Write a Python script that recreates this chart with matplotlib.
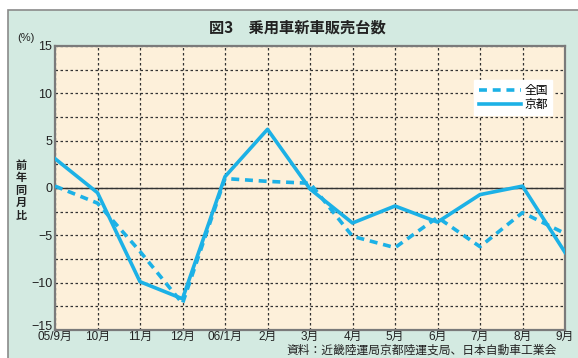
import matplotlib
matplotlib.use('Agg')
import matplotlib.pyplot as plt
from matplotlib.patches import Rectangle
from matplotlib.ticker import MultipleLocator

plt.rcParams['font.family'] = ['Noto Sans CJK JP', 'DejaVu Sans']
tick_fonts = ['Liberation Sans', 'Noto Sans CJK JP']

# データ（前年同月比, %）
months = ['05/9月', '10月', '11月', '12月', '06/1月', '2月', '3月',
          '4月', '5月', '6月', '7月', '8月', '9月']
zenkoku = [0.2, -1.6, -6.7, -12.2, 1.0, 0.7, 0.5, -5.1, -6.3, -3.1, -6.2, -2.6, -4.8]
kyoto = [3.1, -0.5, -9.9, -11.7, 1.2, 6.2, -0.1, -3.7, -1.9, -3.6, -0.7, 0.2, -6.8]
y_ticks = [-15, -10, -5, 0, 5, 10, 15]

line_color = '#1cb1e6'
bg_color = '#d3eae1'
face_color = '#fdf0da'

fig = plt.figure(figsize=(5.78, 3.58), dpi=100)
fig.patch.set_facecolor('white')

# 外枠（緑の背景）
rahmen = Rectangle((8 / 578, -0.1), 1.0, 1.1 - 10 / 358,
                   transform=fig.transFigure, facecolor=bg_color,
                   edgecolor='#8a8a8a', linewidth=1.2, zorder=-5)
fig.add_artist(rahmen)

ax = fig.add_axes([55 / 578, 1 - 330 / 358, 510 / 578, 284 / 358])
ax.set_zorder(1)
ax.set_facecolor(face_color)

x = list(range(len(months)))
ax.plot(x, zenkoku, color=line_color, linewidth=2.6, linestyle=(0, (2.2, 1.6)),
        label='全国', zorder=3)
ax.plot(x, kyoto, color=line_color, linewidth=2.6, label='京都', zorder=4)

ax.axhline(0, color='#333333', linewidth=1.0, zorder=2)

ax.set_xlim(0, 12)
ax.set_ylim(-15, 15)
ax.set_xticks(x)
ax.set_xticklabels(months, family=tick_fonts, fontsize=8.5)
ax.yaxis.set_minor_locator(MultipleLocator(2.5))
ax.set_yticks(y_ticks)
ax.set_yticklabels([str(v).replace('-', '−') for v in y_ticks],
                   family=tick_fonts, fontsize=9)
# -15 は少し上にずらす（元図と同じ）
ax.get_yticklabels()[0].set_va('baseline')

ax.grid(True, which='both', color='#333333', linestyle=(0, (2, 2)), linewidth=0.9)
ax.set_axisbelow(True)
ax.tick_params(axis='both', which='both', length=0, colors='#222222', pad=2)
ax.tick_params(axis='x', pad=1)

for sp in ax.spines.values():
    sp.set_color('#7a7a7a')
    sp.set_linewidth(1.6)

leg = ax.legend(loc='upper right', bbox_to_anchor=(0.975, 0.88), fontsize=8.5,
                frameon=True, fancybox=False, handlelength=3.6, handletextpad=0.3,
                labelspacing=0.05, borderpad=0.35, borderaxespad=0)
leg.get_frame().set_edgecolor('white')
leg.get_frame().set_facecolor('white')
leg.get_frame().set_alpha(1)

fig.text(297 / 578, 1 - 28 / 358, '図3　乗用車新車販売台数', ha='center', va='center',
         fontsize=11, fontweight='bold', color='#222222')
fig.text(17 / 578, 1 - 38 / 358, '(%)', ha='left', va='center', fontsize=8,
         family=tick_fonts, color='#222222')
fig.text(21 / 578, 1 - 190 / 358, '前\n年\n同\n月\n比', ha='center', va='center',
         fontsize=8, fontweight='bold', linespacing=0.95, color='#222222')
fig.text(422 / 578, 1 / 358, '資料：近畿陸運局京都陸運支局、日本自動車工業会',
         ha='center', va='bottom', fontsize=8.5, color='#222222')

fig.savefig('out.png', dpi=100, facecolor=fig.get_facecolor())
